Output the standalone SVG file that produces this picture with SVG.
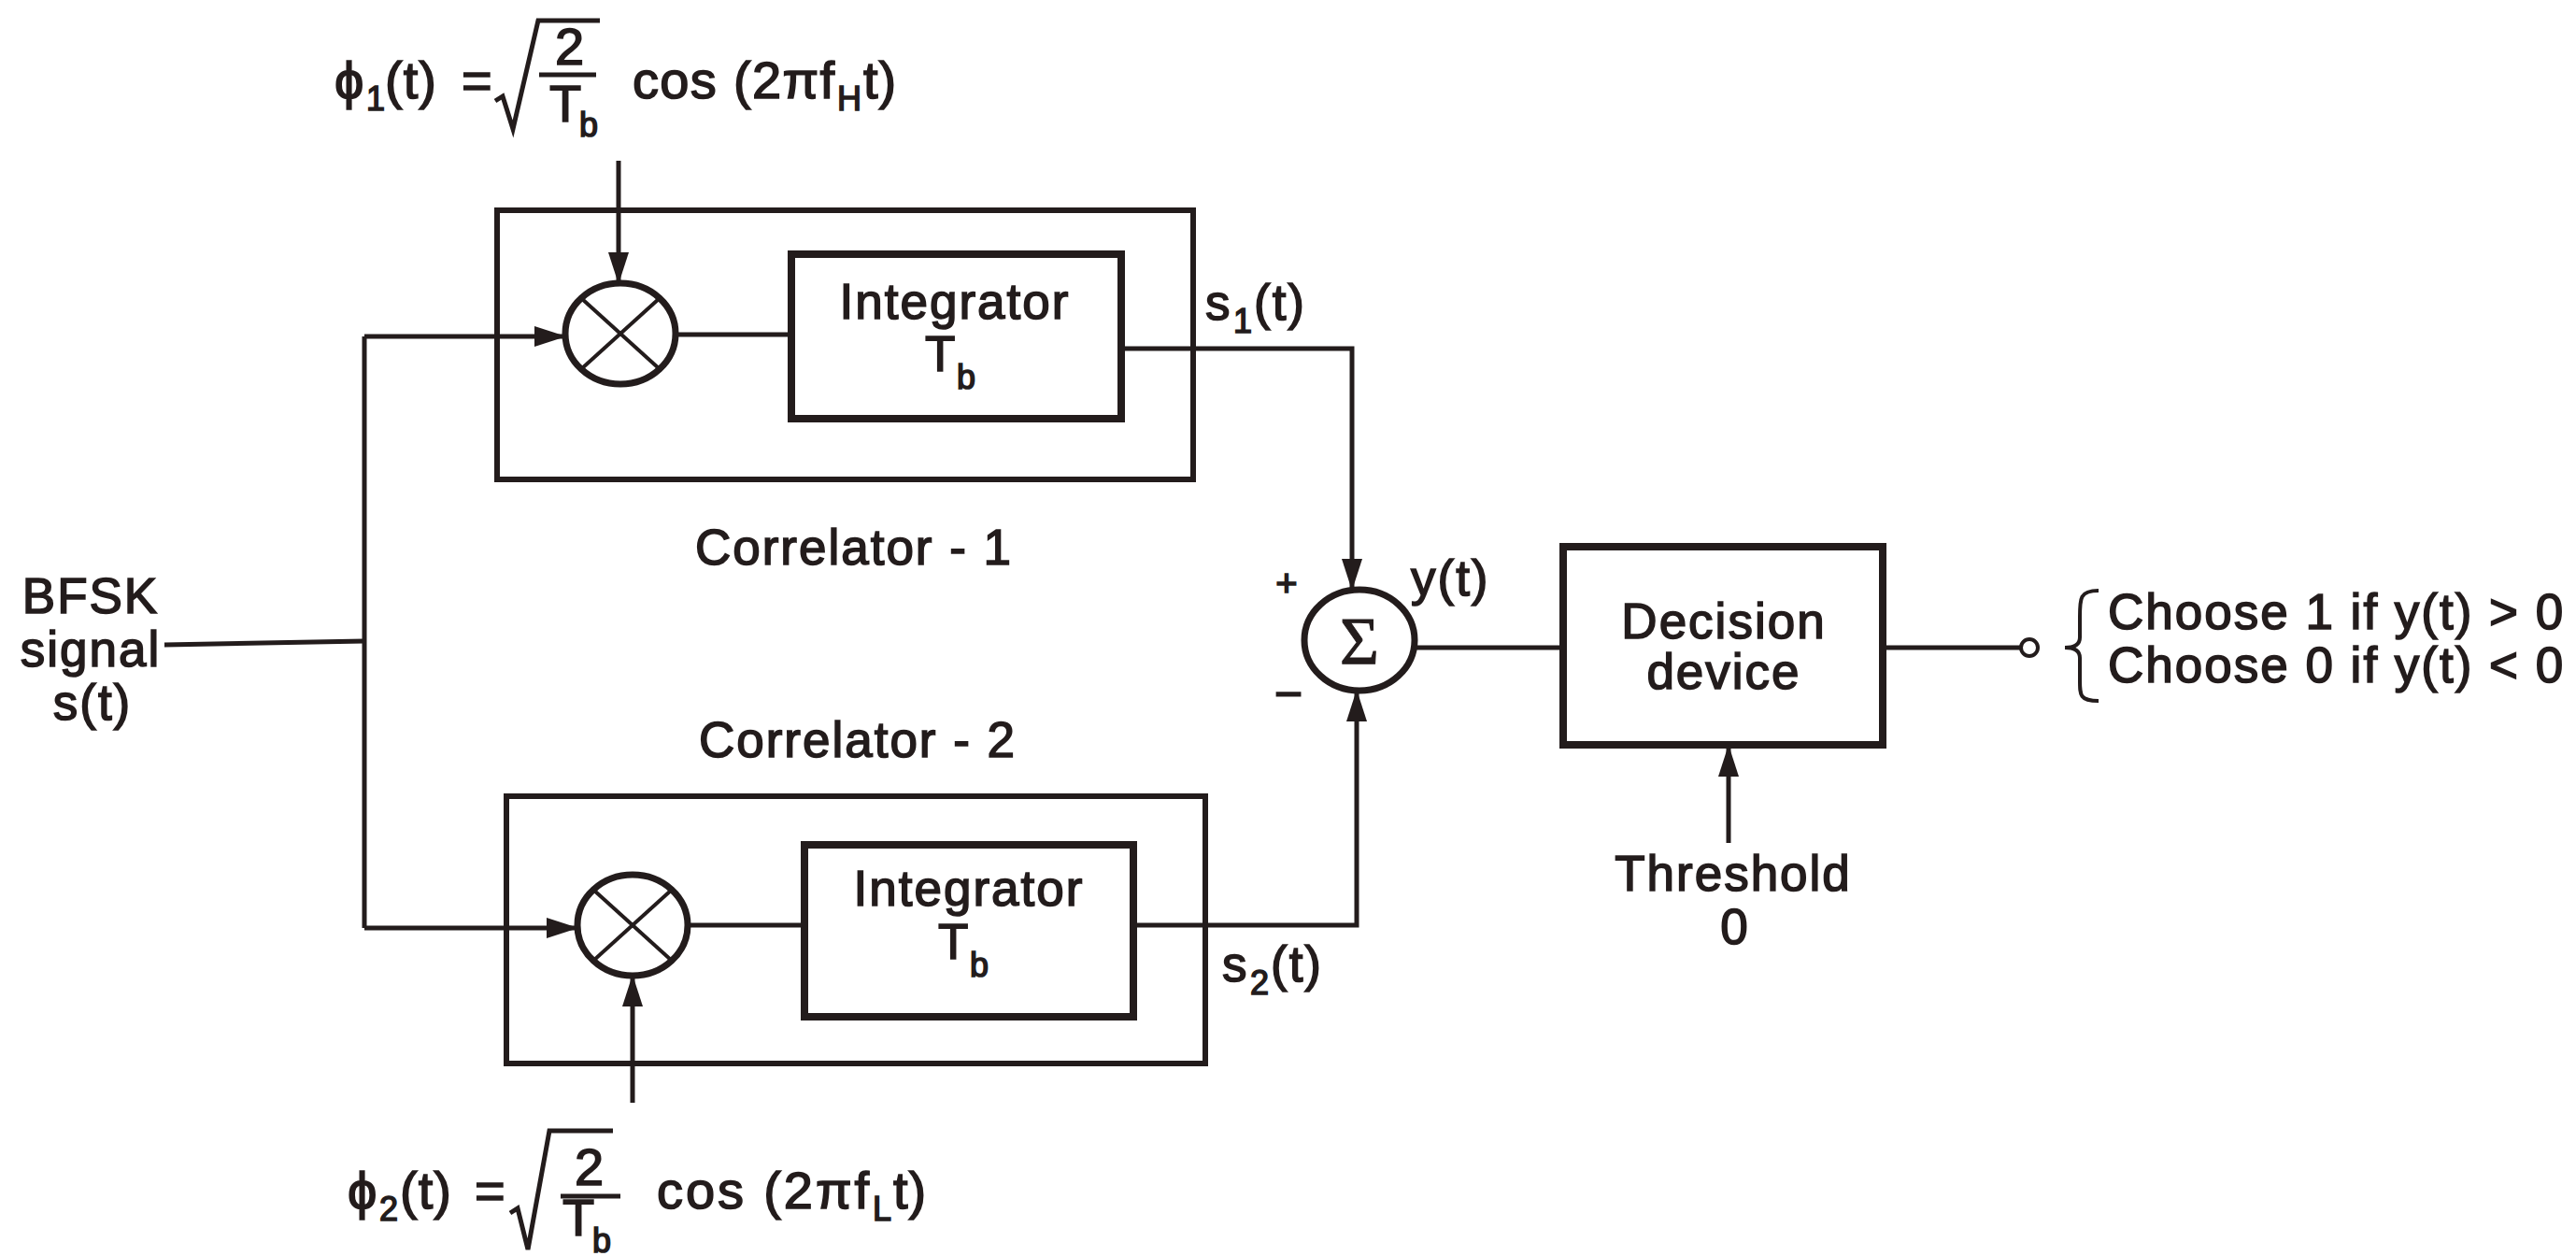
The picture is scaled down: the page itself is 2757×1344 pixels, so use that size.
<svg xmlns="http://www.w3.org/2000/svg" width="2757" height="1344" viewBox="0 0 2757 1344">
<defs>
<marker id="arr" markerWidth="34" markerHeight="22" refX="32" refY="11" orient="auto" markerUnits="userSpaceOnUse"><path d="M0,0 L34,11 L0,22 Z" fill="#231c1c"/></marker>
<style>
.box{fill:none;stroke:#231c1c;stroke-width:6}
.blk{fill:none;stroke:#231c1c;stroke-width:8}
.op{fill:none;stroke:#231c1c;stroke-width:7}
.ln{fill:none;stroke:#231c1c;stroke-width:5}
.x{fill:none;stroke:#231c1c;stroke-width:4}
text{font-family:"Liberation Sans","DejaVu Sans",Arial,sans-serif;fill:#231c1c;stroke:#231c1c;stroke-width:1.6}
.lb{font-size:53px;letter-spacing:2px}
.fm{font-size:56px;letter-spacing:1px}
.sub{font-size:36px;letter-spacing:0}
.mid{text-anchor:middle}
</style>
</defs>
<rect width="2757" height="1344" fill="#ffffff"/>

<g id="phi1-label">
<text class="fm"><tspan x="358" y="105">ϕ</tspan><tspan class="sub" x="392" y="118">1</tspan><tspan x="412" y="105">(t)</tspan><tspan x="494" y="105">=</tspan><tspan x="594" y="69">2</tspan><tspan x="588" y="130">T</tspan><tspan class="sub" x="620" y="146">b</tspan><tspan x="677" y="105" textLength="217" lengthAdjust="spacing">cos (2πf</tspan><tspan class="sub" x="896" y="118">H</tspan><tspan x="924" y="105">t)</tspan></text>
<path class="ln" d="M530,108 L538,103 L549,138 L576,22 L642,22"/>
<line class="ln" x1="577" y1="80" x2="638" y2="80"/>
</g>

<g id="phi2-label">
<text class="fm"><tspan x="372" y="1293">ϕ</tspan><tspan class="sub" x="406" y="1306">2</tspan><tspan x="428" y="1293">(t)</tspan><tspan x="508" y="1293">=</tspan><tspan x="615" y="1268">2</tspan><tspan x="602" y="1322">T</tspan><tspan class="sub" x="634" y="1340">b</tspan><tspan x="703" y="1293" textLength="228" lengthAdjust="spacing">cos (2πf</tspan><tspan class="sub" x="934" y="1306">L</tspan><tspan x="956" y="1293">t)</tspan></text>
<path class="ln" d="M546,1298 L554,1293 L565,1337 L588,1210 L656,1210"/>
<line class="ln" x1="600" y1="1280" x2="664" y2="1280"/>
</g>

<g id="input-label">
<text class="lb mid"><tspan x="97" y="656">BFSK</tspan><tspan x="97" y="713">signal</tspan><tspan x="99" y="770">s(t)</tspan></text>
</g>

<g id="correlator1">
<rect class="box" x="532" y="225" width="745" height="288"/>
<text class="lb mid" x="914" y="604">Correlator - 1</text>
</g>

<g id="correlator2">
<rect class="box" x="542" y="852" width="748" height="286"/>
<text class="lb mid" x="918" y="810">Correlator - 2</text>
</g>

<g id="multiplier1">
<ellipse class="op" cx="664" cy="357" rx="59" ry="54"/>
<line class="x" x1="622" y1="319" x2="706" y2="395"/>
<line class="x" x1="706" y1="319" x2="622" y2="395"/>
</g>

<g id="multiplier2">
<ellipse class="op" cx="677" cy="990" rx="59" ry="54"/>
<line class="x" x1="635" y1="952" x2="719" y2="1028"/>
<line class="x" x1="719" y1="952" x2="635" y2="1028"/>
</g>

<g id="integrator1">
<rect class="blk" x="847" y="272" width="353" height="176"/>
<text class="lb"><tspan x="1022" y="341" text-anchor="middle">Integrator</tspan><tspan x="990" y="397">T</tspan><tspan class="sub" x="1024" y="416">b</tspan></text>
</g>

<g id="integrator2">
<rect class="blk" x="861" y="904" width="352" height="184"/>
<text class="lb"><tspan x="1037" y="969" text-anchor="middle">Integrator</tspan><tspan x="1004" y="1026">T</tspan><tspan class="sub" x="1038" y="1045">b</tspan></text>
</g>

<g id="summer">
<ellipse class="op" cx="1455" cy="685" rx="59" ry="54"/>
<text x="1455" y="710" text-anchor="middle" style="font-family:'Liberation Serif','DejaVu Serif',serif;font-size:72px;stroke-width:1">Σ</text>
<text x="1377" y="638" text-anchor="middle" style="font-size:40px">+</text>
<text x="1379" y="760" text-anchor="middle" style="font-size:52px">−</text>
<text class="lb" x="1510" y="637">y(t)</text>
</g>

<g id="decision">
<rect class="blk" x="1673" y="585" width="342" height="212"/>
<text class="lb mid"><tspan x="1845" y="683">Decision</tspan><tspan x="1845" y="737">device</tspan></text>
</g>

<g id="threshold-label">
<text class="lb mid"><tspan x="1855" y="953">Threshold</tspan><tspan x="1857" y="1010">0</tspan></text>
</g>

<g id="output-label">
<path class="x" d="M2246,632 C2226,632 2226,640 2226,660 L2226,682 C2226,690 2220,693 2210,693 C2220,693 2226,696 2226,704 L2226,728 C2226,744 2226,750 2246,750"/>
<text class="lb"><tspan x="2256" y="673">Choose 1 if y(t) &gt; 0</tspan><tspan x="2256" y="730">Choose 0 if y(t) &lt; 0</tspan></text>
</g>

<g id="signal-labels">
<text class="lb"><tspan x="1290" y="342">s</tspan><tspan class="sub" x="1320" y="356">1</tspan><tspan x="1342" y="342">(t)</tspan></text>
<text class="lb"><tspan x="1308" y="1050">s</tspan><tspan class="sub" x="1338" y="1064">2</tspan><tspan x="1360" y="1050">(t)</tspan></text>
</g>

<g id="connectors">
<line class="ln" x1="176" y1="690" x2="390" y2="686"/>
<polyline class="ln" points="390,360 390,993"/>
<line class="ln" x1="390" y1="360" x2="604" y2="360" marker-end="url(#arr)"/>
<line class="ln" x1="390" y1="993" x2="617" y2="993" marker-end="url(#arr)"/>
<line class="ln" x1="662" y1="172" x2="662" y2="302" marker-end="url(#arr)"/>
<line class="ln" x1="677" y1="1180" x2="677" y2="1045" marker-end="url(#arr)"/>
<line class="ln" x1="723" y1="358" x2="847" y2="358"/>
<line class="ln" x1="736" y1="990" x2="861" y2="990"/>
<polyline class="ln" points="1200,373 1447,373 1447,630" marker-end="url(#arr)"/>
<polyline class="ln" points="1213,990 1452,990 1452,740" marker-end="url(#arr)"/>
<line class="ln" x1="1514" y1="693" x2="1673" y2="693"/>
<line class="ln" x1="1850" y1="902" x2="1850" y2="799" marker-end="url(#arr)"/>
<line class="ln" x1="2015" y1="693" x2="2162" y2="693"/>
<circle cx="2172" cy="693" r="9" fill="#ffffff" stroke="#231c1c" stroke-width="4"/>
</g>
</svg>
